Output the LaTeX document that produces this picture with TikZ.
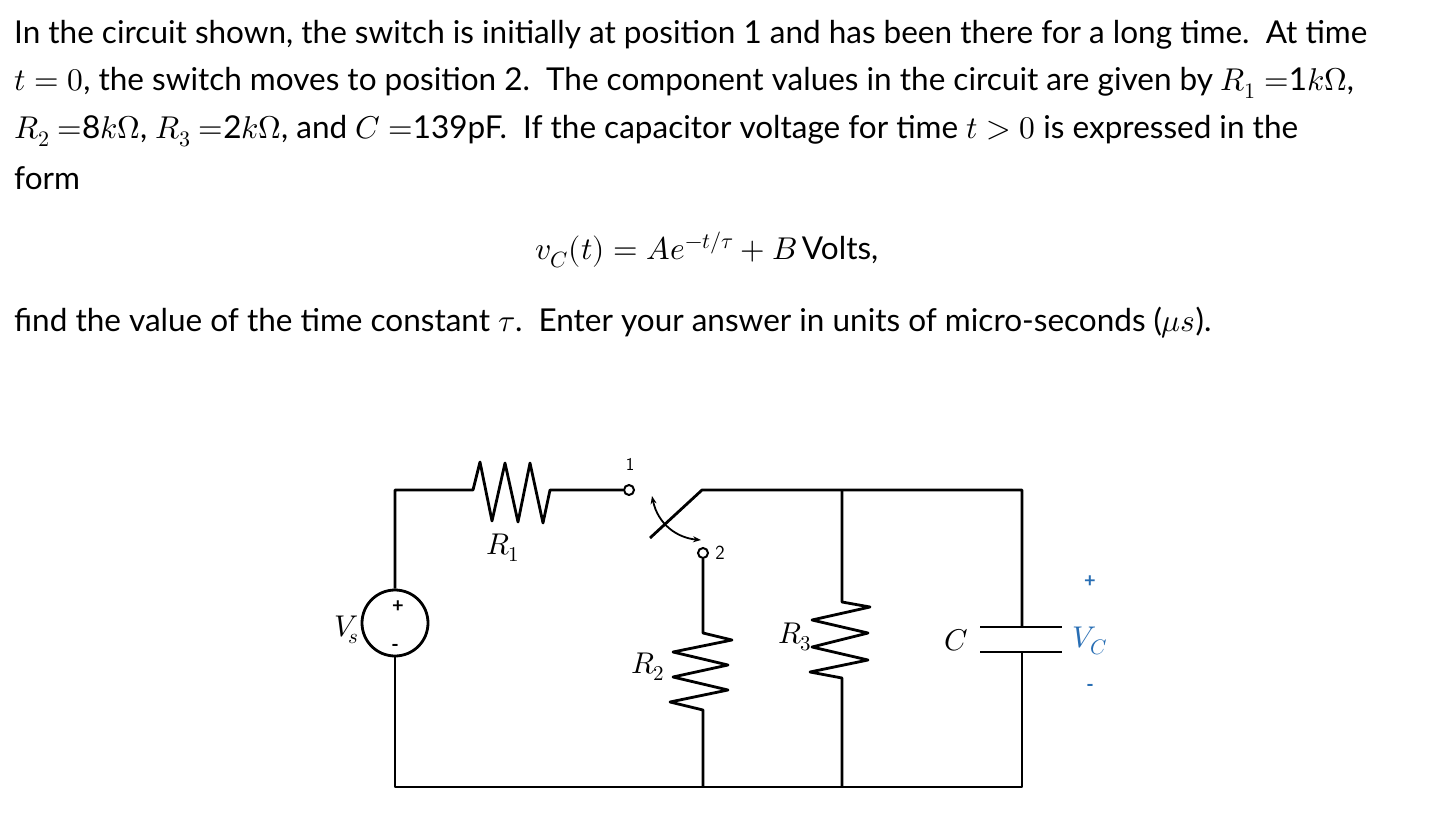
\documentclass[tikz,border=0pt]{standalone}
\usepackage{fontspec}
\usepackage{unicode-math}
\setmainfont{Lato}
\setmathfont{Latin Modern Math}
\usetikzlibrary{arrows.meta}
\begin{document}
\begin{tikzpicture}[x=1pt,y=-1pt,
  txt/.style={anchor=west,inner sep=0pt,font=\fontsize{31.5}{34}\selectfont},
  lab/.style={inner sep=0pt,font=\fontsize{30}{32}\selectfont},
  small/.style={inner sep=0pt,font=\fontsize{20}{20}\selectfont\bfseries},
  wire/.style={line width=2.8pt,line join=round},
  term/.style={circle,draw,line width=2pt,inner sep=0pt,minimum size=10pt}]
\useasboundingbox (0,0) rectangle (1444,824);
\fill[white] (0,0) rectangle (1444,824);
\node[txt] (l1) at (14,35) {In the circuit shown, the switch is initially at position 1 and has been there for a long time.\ \ At time};
\node[txt] (l2) at (14,83) {$t=0$, the switch moves to position 2.\ \ The component values in the circuit are given by $R_1$ $=$1$k\Omega$,};
\node[txt] (l3) at (14,131) {$R_2$ $=$8$k\Omega$, $R_3$ $=$2$k\Omega$, and $C$ $=$139pF.\ \ If the capacitor voltage for time $t>0$ is expressed in the};
\node[txt] (l4) at (14,178) {form};
\node[txt,anchor=center] (eq) at (707,250) {$v_C(t) = Ae^{-t/\tau}+B$\,Volts,};
\node[txt] (l5) at (14,323) {find the value of the time constant $\tau$.\ \ Enter your answer in units of micro-seconds ($\mu s$).};
% circuit
\node[circle,draw,line width=2.8pt,minimum size=66pt,inner sep=0pt] (vs) at (395,623) {};
\node[small] (vp) at (398,607) {+};
\node[small] (vm) at (395,648) {-};
\node[lab,anchor=east] (vsl) at (359,630) {$V_{\!s}$};
\node[term] (t1) at (629,490) {};
\node[font=\fontsize{18}{18}\selectfont\sffamily] (t1l) at (630,464) {1};
\node[term] (t2) at (703,553) {};
\node[font=\fontsize{20}{20}\selectfont\sffamily] (t2l) at (720,553) {2};
\coordinate (tl) at (395,490);
\coordinate (bl) at (395,787);
\coordinate (r1a) at (473,490);
\coordinate (r1b) at (550,490);
\coordinate (sw) at (702,490);
\coordinate (swe) at (650,538);
\coordinate (tr) at (1022,490);
\coordinate (br) at (1022,787);
\coordinate (r3t) at (842,490);
\coordinate (r3b) at (842,787);
\coordinate (r2b) at (703,787);
\draw[wire] (vs.north) -- (tl) -- (r1a) -- (480,462) -- (492,521) -- (505,463) -- (518,522) -- (530,463) -- (543,523) -- (r1b) -- (t1.west);
\draw[wire] (swe) -- (sw) -- (tr) -- (1022,627);
\draw[wire] (980,627) -- (1062,627) (980,652) -- (1062,652);
\draw[wire] (1022,652) -- (br) -- (bl) -- (vs.south);
\draw[wire] (t2.south) -- (703,633) -- (732,640) -- (673,652) -- (728,665) -- (673,677) -- (728,690) -- (670,702) -- (703,710) -- (r2b);
\draw[wire] (r3t) -- (842,602) -- (870,607) -- (812,620) -- (868,633) -- (812,647) -- (868,660) -- (810,672) -- (842,678) -- (r3b);
\draw[line width=1.8pt,{Stealth[length=8pt]}-{Stealth[length=8pt]}] (652,496) .. controls (658,525) and (678,538) .. (701,540);
\node[lab] (r1l) at (503,548) {$R_1$};
\node[lab] (r2l) at (648,667) {$R_2$};
\node[lab] (r3l) at (795,637) {$R_3$};
\node[lab] (cl) at (956,640) {$C$};
\node[lab,text={rgb,255:red,40;green,110;blue,180}] (vcl) at (1090,641) {$V_C$};
\node[small,text={rgb,255:red,40;green,110;blue,180}] (vcp) at (1090,582) {+};
\node[small,text={rgb,255:red,40;green,110;blue,180}] (vcm) at (1090,688) {-};
\end{tikzpicture}
\end{document}
